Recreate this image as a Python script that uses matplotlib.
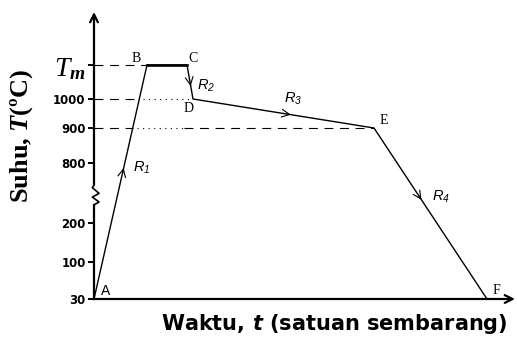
import numpy as np
import matplotlib
matplotlib.use("Agg")
import matplotlib.pyplot as plt

# process points (time in arbitrary units, temperature in degC)
labels = ["A", "B", "C", "D", "E", "F"]
t_pts = [0.0, 5.3, 9.3, 9.9, 28.0, 39.3]
TM = 1100  # melting point, only shown as "T_m"
T_pts = [30, TM, TM, 1000, 900, 30]

ytick_vals = [30, 100, 200, 800, 900, 1000, TM]
ytick_text = ["30", "100", "200", "800", "900", "1000", "$\\mathcal{T}_{m}$"]

rate_names = ["$\\mathsf{R_1}$", "$\\mathsf{R_2}$", "$\\mathsf{R_3}$", "$\\mathsf{R_4}$"]
rate_segs = [(0, 1), (2, 3), (3, 4), (4, 5)]

# broken temperature axis: piecewise linear scale
T_ANCHOR = [-500, 30, 100, 200, 800, 900, 1000, 1100, 2000]
P_ANCHOR = [-281, 0, 37, 76, 136, 171, 200, 234, 540]


def fwd(v):
    return np.interp(v, T_ANCHOR, P_ANCHOR)


def inv(p):
    return np.interp(p, P_ANCHOR, T_ANCHOR)


def along(i, j, f):
    """point at fraction f of segment i->j (straight on screen)"""
    p = fwd(T_pts[i]) + f * (fwd(T_pts[j]) - fwd(T_pts[i]))
    return t_pts[i] + f * (t_pts[j] - t_pts[i]), float(inv(p))


def frac_at(i, j, T):
    return (fwd(T) - fwd(T_pts[i])) / (fwd(T_pts[j]) - fwd(T_pts[i]))


plt.rcParams["mathtext.fontset"] = "custom"
plt.rcParams["mathtext.it"] = "Liberation Serif:italic:bold"
plt.rcParams["mathtext.cal"] = "Liberation Serif:italic"
plt.rcParams["mathtext.sf"] = "Liberation Sans:italic"
plt.rcParams["mathtext.bf"] = "DejaVu Sans:italic:bold"

fig = plt.figure(figsize=(5.17, 3.45), dpi=100)
ax = fig.add_axes([94 / 517, 46 / 345, 421 / 517, 287 / 345])
ax.set_yscale("function", functions=(fwd, inv))
ax.set_xlim(0, 42.1)
ax.set_ylim(30, float(inv(287)))
for s in ax.spines.values():
    s.set_visible(False)

# guide lines
k = dict(color="black", lw=0.8)
dash = (0, (8, 6))
ax.plot([0, t_pts[1]], [TM, TM], ls=dash, **k)
x1000 = along(0, 1, frac_at(0, 1, 1000))[0]
ax.plot([0, x1000], [1000, 1000], ls=dash, **k)
ax.plot([x1000 + 0.4, t_pts[3]], [1000, 1000], ls=(0, (1, 4)), **k)
x900 = along(0, 1, frac_at(0, 1, 900))[0]
ax.plot([0, x900], [900, 900], ls=dash, **k)
ax.plot([x900 + 0.4, 9.0], [900, 900], ls=(0, (1, 4)), **k)
ax.plot([9.0, t_pts[4]], [900, 900], ls=dash, **k)

# process curve
ax.plot(t_pts, T_pts, color="black", lw=1.0, solid_joinstyle="miter")
ax.plot(t_pts[1:3], T_pts[1:3], color="black", lw=1.9)

# direction chevrons
arrow_fracs = [0.56, 0.62, 0.54, 0.42]
for (i, j), f in zip(rate_segs, arrow_fracs):
    ax.annotate("", xy=along(i, j, f), xytext=along(i, j, f - 0.02),
                arrowprops=dict(arrowstyle="->", lw=0.8, mutation_scale=14,
                                shrinkA=0, shrinkB=0, color="black"))

# rate labels
rate_off = [(18, 0), (16, -2), (6, 15), (22, 0)]
rate_frac = [0.56, 0.55, 0.52, 0.40]
for name, (i, j), f, off in zip(rate_names, rate_segs, rate_frac, rate_off):
    ax.annotate(name, xy=along(i, j, f), xytext=off, textcoords="offset pixels",
                ha="center", va="center", fontsize=10.5)

# point labels
pt_off = [(12, 8), (-11, 7), (6, 7), (-4, -9), (10, 8), (9, 9)]
for lab, t, T, off in zip(labels, t_pts, T_pts, pt_off):
    fam = "Liberation Sans" if lab == "A" else "Liberation Serif"
    ax.annotate(lab, xy=(t, T), xytext=off, textcoords="offset pixels",
                ha="center", va="center", fontsize=10, family=fam)

# axes drawn by hand (y axis has a break)
tr = ax.transAxes
ax.plot([0, 0], [0, 0.328], color="black", lw=1.6, transform=tr, clip_on=False)
ax.plot([0, 0.012, -0.004, 0.012, -0.004, 0],
        [0.328, 0.338, 0.355, 0.368, 0.388, 0.397],
        color="black", lw=1.2, transform=tr, clip_on=False)
ax.annotate("", xy=(0, 1), xytext=(0, 0.397), xycoords=tr,
            arrowprops=dict(arrowstyle="->", lw=1.6, mutation_scale=14,
                            shrinkA=0, shrinkB=0, color="black"))
ax.annotate("", xy=(1, 0), xytext=(0, 0), xycoords=tr,
            arrowprops=dict(arrowstyle="->", lw=1.6, mutation_scale=14,
                            shrinkA=0, shrinkB=0, color="black"))

ax.set_xticks([])
ax.set_yticks(ytick_vals)
ax.set_yticklabels(ytick_text)
ax.yaxis.set_minor_locator(matplotlib.ticker.NullLocator())
ax.tick_params(axis="y", direction="out", length=4, width=1.4, pad=2)
for tl in ax.get_yticklabels():
    tl.set_fontsize(8.5)
    tl.set_fontweight("bold")
ax.get_yticklabels()[-1].set_fontsize(20)

fig.text(22 / 517, 1 - 136 / 345, "Suhu, $T$(ºC)", rotation=90,
         ha="center", va="center", fontsize=19, family="Liberation Serif",
         fontweight="bold")
fig.text(334 / 517, 1 - 324 / 345, "Waktu, $\\mathbf{t}$ (satuan sembarang)",
         ha="center", va="center", fontsize=15, family="DejaVu Sans",
         fontweight="bold")

fig.savefig("out.png", dpi=100)
